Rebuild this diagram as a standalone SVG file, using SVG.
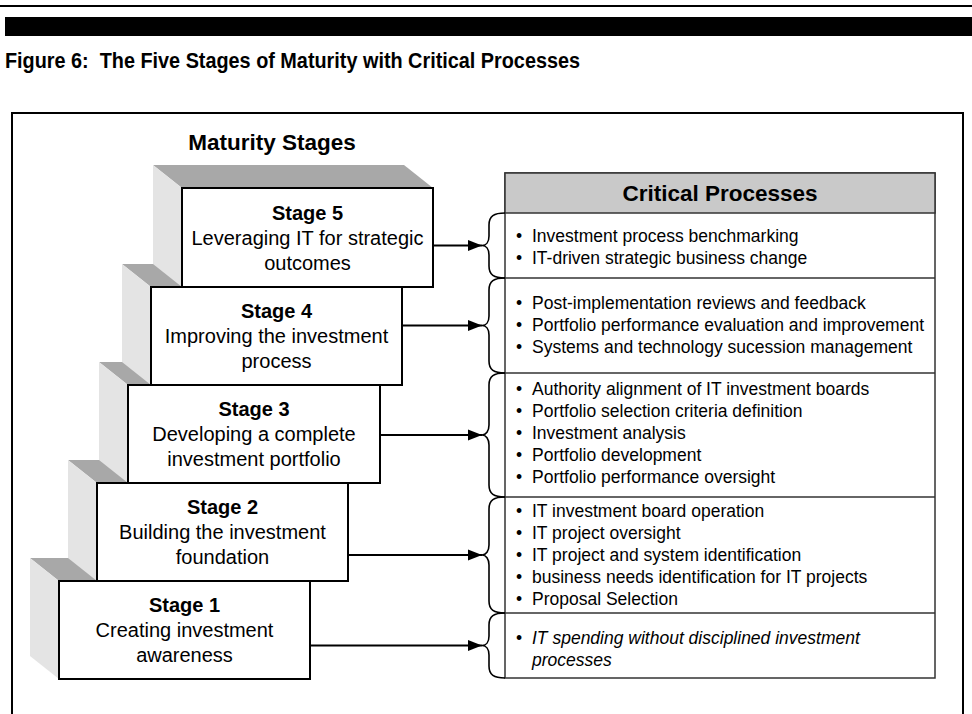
<svg xmlns="http://www.w3.org/2000/svg" width="972" height="714" viewBox="0 0 972 714">
  <defs>
    <style>
      .ink{fill:#000}
      .frame{fill:none;stroke:#000;stroke-width:2}
      .top{fill:#a8a8a8}
      .side{fill:#e4e4e4}
      .face{fill:#fff;stroke:#000;stroke-width:2}
      .hdr{font:bold 22px "Liberation Sans",Arial,sans-serif}
      .h2{font:bold 22.5px "Liberation Sans",Arial,sans-serif;text-anchor:middle}
      .st{font:bold 20px "Liberation Sans",Arial,sans-serif;text-anchor:middle}
      .sd{font:20px "Liberation Sans",Arial,sans-serif;text-anchor:middle}
      .li{font:17.5px "Liberation Sans",Arial,sans-serif}
      .it{font-style:italic}
      .conn line{stroke:#000;stroke-width:2;marker-end:url(#ah)}
      .brace{fill:none;stroke:#000;stroke-width:1.6}
      .box{fill:#fff;stroke:#333;stroke-width:1.5}
      .row{stroke:#333;stroke-width:1.5}
    </style>
    <marker id="ah" markerUnits="userSpaceOnUse" markerWidth="14" markerHeight="12" refX="14" refY="6" orient="auto">
      <path d="M0,0.5 L14,6 L0,11.5 z" fill="#000"/>
    </marker>
  </defs>

  <rect width="972" height="714" fill="#fff"/>

  <!-- page header rules and caption -->
  <rect x="0" y="5" width="972" height="2" class="ink"/>
  <rect x="5" y="17" width="967" height="19" class="ink"/>
  <text x="5" y="68" class="hdr" xml:space="preserve" textLength="575" lengthAdjust="spacingAndGlyphs">Figure 6:  The Five Stages of Maturity with Critical Processes</text>

  <!-- outer frame (open at the bottom) -->
  <path d="M12,714 V113 H963 V714" class="frame"/>

  <text x="272" y="150" class="h2">Maturity Stages</text>

  <!-- staircase, drawn from the bottom step up so upper steps overlap lower top faces -->
  <g id="stage1">
    <polygon class="top" points="30,558 281,558 310,581 59,581"/>
    <polygon class="side" points="30,558 59,581 59,679 30,656"/>
    <rect class="face" x="59" y="581" width="251" height="98"/>
    <text x="184.5" y="612" class="st">Stage 1</text>
    <text x="184.5" y="637" class="sd">Creating investment</text>
    <text x="184.5" y="662" class="sd">awareness</text>
  </g>
  <g id="stage2">
    <polygon class="top" points="68,460 319,460 348,483 97,483"/>
    <polygon class="side" points="68,460 97,483 97,581 68,558"/>
    <rect class="face" x="97" y="483" width="251" height="98"/>
    <text x="222.5" y="514" class="st">Stage 2</text>
    <text x="222.5" y="539" class="sd">Building the investment</text>
    <text x="222.5" y="564" class="sd">foundation</text>
  </g>
  <g id="stage3">
    <polygon class="top" points="99,362 351,362 380,385 128,385"/>
    <polygon class="side" points="99,362 128,385 128,483 99,460"/>
    <rect class="face" x="128" y="385" width="252" height="98"/>
    <text x="254" y="416" class="st">Stage 3</text>
    <text x="254" y="441" class="sd">Developing a complete</text>
    <text x="254" y="466" class="sd">investment portfolio</text>
  </g>
  <g id="stage4">
    <polygon class="top" points="122,264 373,264 402,287 151,287"/>
    <polygon class="side" points="122,264 151,287 151,385 122,362"/>
    <rect class="face" x="151" y="287" width="251" height="98"/>
    <text x="276.5" y="318" class="st">Stage 4</text>
    <text x="276.5" y="343" class="sd">Improving the investment</text>
    <text x="276.5" y="368" class="sd">process</text>
  </g>
  <g id="stage5">
    <polygon class="top" points="153,165 404,165 433,188 182,188"/>
    <polygon class="side" points="153,165 182,188 182,287 153,264"/>
    <rect class="face" x="182" y="188" width="251" height="99"/>
    <text x="307.5" y="220" class="st">Stage 5</text>
    <text x="307.5" y="245" class="sd">Leveraging IT for strategic</text>
    <text x="307.5" y="270" class="sd">outcomes</text>
  </g>

  <!-- critical processes table -->
  <g id="processes">
    <rect class="box" x="505" y="173" width="430" height="505"/>
    <rect x="505" y="173" width="430" height="40" fill="#c9c9c9" stroke="#333" stroke-width="1.5"/>
    <text x="720" y="201" class="h2">Critical Processes</text>
    <line class="row" x1="505" y1="278" x2="935" y2="278"/>
    <line class="row" x1="505" y1="373" x2="935" y2="373"/>
    <line class="row" x1="505" y1="497" x2="935" y2="497"/>
    <line class="row" x1="505" y1="613" x2="935" y2="613"/>
  </g>

  <g id="list5" class="li">
    <text y="242"><tspan x="516">•</tspan><tspan x="532">Investment process benchmarking</tspan></text>
    <text y="264"><tspan x="516">•</tspan><tspan x="532">IT-driven strategic business change</tspan></text>
  </g>
  <g id="list4" class="li">
    <text y="309"><tspan x="516">•</tspan><tspan x="532">Post-implementation reviews and feedback</tspan></text>
    <text y="331"><tspan x="516">•</tspan><tspan x="532">Portfolio performance evaluation and improvement</tspan></text>
    <text y="353"><tspan x="516">•</tspan><tspan x="532">Systems and technology sucession management</tspan></text>
  </g>
  <g id="list3" class="li">
    <text y="395"><tspan x="516">•</tspan><tspan x="532">Authority alignment of IT investment boards</tspan></text>
    <text y="417"><tspan x="516">•</tspan><tspan x="532">Portfolio selection criteria definition</tspan></text>
    <text y="439"><tspan x="516">•</tspan><tspan x="532">Investment analysis</tspan></text>
    <text y="461"><tspan x="516">•</tspan><tspan x="532">Portfolio development</tspan></text>
    <text y="483"><tspan x="516">•</tspan><tspan x="532">Portfolio performance oversight</tspan></text>
  </g>
  <g id="list2" class="li">
    <text y="517"><tspan x="516">•</tspan><tspan x="532">IT investment board operation</tspan></text>
    <text y="539"><tspan x="516">•</tspan><tspan x="532">IT project oversight</tspan></text>
    <text y="561"><tspan x="516">•</tspan><tspan x="532">IT project and system identification</tspan></text>
    <text y="583"><tspan x="516">•</tspan><tspan x="532">business needs identification for IT projects</tspan></text>
    <text y="605"><tspan x="516">•</tspan><tspan x="532">Proposal Selection</tspan></text>
  </g>
  <g id="list1" class="li">
    <text y="644"><tspan x="516">•</tspan><tspan x="532" class="it">IT spending without disciplined investment</tspan></text>
    <text y="666" class="it"><tspan x="532">processes</tspan></text>
  </g>

  <!-- braces grouping each row -->
  <g id="braces" class="brace">
    <path d="M505,213 C494,213 489,216 489,225 L489,236 C489,242 486,245.5 482,245.5 C486,245.5 489,249 489,255 L489,266 C489,275 494,278 505,278"/>
    <path d="M505,278 C494,278 489,281 489,290 L489,316 C489,322 486,325.5 482,325.5 C486,325.5 489,329 489,335 L489,361 C489,370 494,373 505,373"/>
    <path d="M505,373 C494,373 489,376 489,385 L489,425 C489,431 486,435 482,435 C486,435 489,439 489,445 L489,485 C489,494 494,497 505,497"/>
    <path d="M505,497 C494,497 489,500 489,509 L489,545 C489,551 486,555 482,555 C486,555 489,559 489,565 L489,601 C489,610 494,613 505,613"/>
    <path d="M505,613 C494,613 489,616 489,625 L489,636 C489,642 486,645.5 482,645.5 C486,645.5 489,649 489,655 L489,666 C489,675 494,678 505,678"/>
  </g>

  <!-- connectors from each stage to its processes -->
  <g id="connectors" class="conn">
    <line x1="433" y1="245.5" x2="482" y2="245.5"/>
    <line x1="402" y1="325.5" x2="482" y2="325.5"/>
    <line x1="380" y1="435" x2="482" y2="435"/>
    <line x1="348" y1="555" x2="482" y2="555"/>
    <line x1="310" y1="645.5" x2="482" y2="645.5"/>
  </g>
</svg>
